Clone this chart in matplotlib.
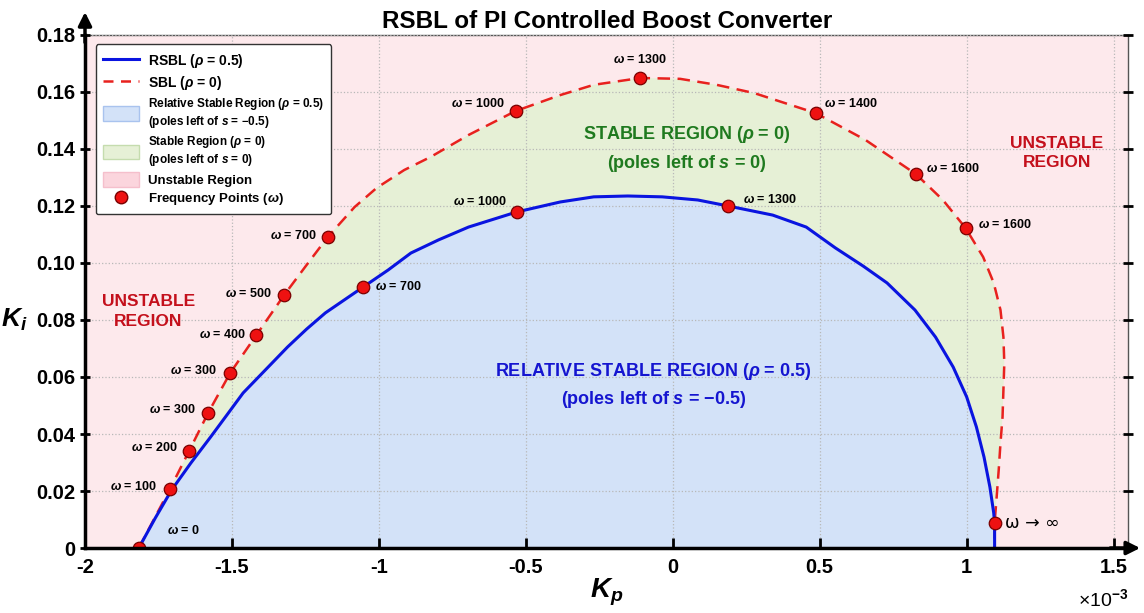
import matplotlib
matplotlib.use("Agg")
import matplotlib.pyplot as plt
from matplotlib.lines import Line2D
from matplotlib.patches import Patch

plt.rcParams["font.family"] = ["Liberation Sans", "DejaVu Sans"]
plt.rcParams["font.weight"] = "bold"
plt.rcParams["mathtext.fontset"] = "custom"
plt.rcParams["mathtext.it"] = "Liberation Sans:italic:bold"
plt.rcParams["mathtext.rm"] = "Liberation Sans:bold"
plt.rcParams["mathtext.bf"] = "Liberation Sans:bold"

# Kp values in units of 1e-3, Ki
rsbl_kp = [-1.817, -1.761, -1.705, -1.640, -1.573, -1.517, -1.462, -1.386, -1.311,
           -1.246, -1.182, -1.053, -0.969, -0.891, -0.797, -0.695, -0.531, -0.383,
           -0.269, -0.153, -0.036, 0.085, 0.188, 0.340, 0.454, 0.553, 0.648, 0.729,
           0.824, 0.894, 0.954, 1.000, 1.033, 1.059, 1.079, 1.092, 1.095, 1.095]
rsbl_ki = [0.0, 0.0105, 0.0204, 0.0298, 0.0389, 0.0467, 0.0544, 0.0625, 0.0705,
           0.0768, 0.0825, 0.0916, 0.0975, 0.1035, 0.1081, 0.1126, 0.1179, 0.1214,
           0.1232, 0.1235, 0.1232, 0.1221, 0.1200, 0.1168, 0.1126, 0.1053, 0.0989, 0.0930,
           0.0835, 0.0740, 0.0635, 0.0530, 0.0425, 0.0319, 0.0214, 0.0123, 0.0088, 0.0]

sbl_kp = [-1.817, -1.711, -1.646, -1.581, -1.506, -1.417, -1.322, -1.246, -1.174,
          -1.083, -1.008, -0.914, -0.824, -0.695, -0.535, -0.383, -0.269, -0.110,
          0.025, 0.149, 0.277, 0.486, 0.655, 0.827, 0.919, 0.996, 1.056, 1.092,
          1.115, 1.125, 1.128, 1.125, 1.122, 1.115, 1.109, 1.102, 1.095, 1.095]
sbl_ki = [0.0, 0.0207, 0.0340, 0.0474, 0.0614, 0.0747, 0.0888, 0.0993, 0.1091,
          0.1196, 0.1263, 0.1326, 0.1372, 0.1449, 0.1533, 0.1589, 0.1625, 0.1649,
          0.1646, 0.1625, 0.1596, 0.1526, 0.1432, 0.1312, 0.1221, 0.1123, 0.1021, 0.0930,
          0.0835, 0.0740, 0.0649, 0.0554, 0.0460, 0.0368, 0.0274, 0.0179, 0.0088, 0.0]

# frequency points on the SBL curve
sbl_pt_kp = [-1.817, -1.711, -1.646, -1.581, -1.506, -1.417, -1.322, -1.174, -0.535,
             -0.110, 0.486, 0.827, 0.996, 1.095]
sbl_pt_ki = [0.0, 0.0207, 0.034, 0.0474, 0.0614, 0.0747, 0.0888, 0.1091, 0.1533,
             0.1649, 0.1526, 0.1312, 0.1123, 0.0088]
sbl_pt_lbl = ["0", "100", "200", "300", "300", "400", "500", "700", "1000",
              "1300", "1400", "1600", "1600", "inf"]
# label offsets (pixels) and alignment
sbl_pt_off = [(28, 18), (-13, 3), (-11, 4), (-12, 3), (-13, 3), (-10, 1), (-12, 1),
              (-11, 2), (-11, 8), (0, 18), (8, 10), (10, 6), (12, 3), (10, 0)]
sbl_pt_ha = ["left", "right", "right", "right", "right", "right", "right", "right",
             "right", "center", "left", "left", "left", "left"]

rsbl_pt_kp = [-1.053, -0.531, 0.188]
rsbl_pt_ki = [0.0916, 0.1179, 0.120]
rsbl_pt_lbl = ["700", "1000", "1300"]
rsbl_pt_off = [(12, 0), (-10, 10), (15, 6)]
rsbl_pt_ha = ["left", "right", "left"]

c_pink = "#fde9ec"
c_green = "#e6f0d6"
c_blue = "#d3e2f8"

fig = plt.figure(figsize=(11.44, 6.13), dpi=100)
ax = fig.add_axes([0.0743, 0.106, 0.912, 0.837])
ax.set_facecolor(c_pink)

ax.fill(sbl_kp, sbl_ki, color=c_green, zorder=1, lw=0)
ax.fill(rsbl_kp, rsbl_ki, color=c_blue, zorder=1.1, lw=0)
ax.plot(sbl_kp, sbl_ki, "--", color="#e8211e", lw=1.8, dashes=(5, 3), zorder=3)
ax.plot(rsbl_kp, rsbl_ki, "-", color="#0a14e0", lw=2.2, zorder=3)

ax.plot(sbl_pt_kp, sbl_pt_ki, "o", ms=9, mfc="#ee1111", mec="#7a0000", mew=0.9, zorder=5)
ax.plot(rsbl_pt_kp, rsbl_pt_ki, "o", ms=9, mfc="#ee1111", mec="#7a0000", mew=0.9, zorder=5)

for x, y, lbl, off, ha in zip(sbl_pt_kp, sbl_pt_ki, sbl_pt_lbl, sbl_pt_off, sbl_pt_ha):
    if lbl == "inf":
        ax.annotate("\u03c9 \u2192 \u221e", (x, y), xytext=off, textcoords="offset pixels",
                    ha=ha, va="center", fontsize=12.5, fontweight="normal",
                    family="DejaVu Sans", zorder=6)
    else:
        ax.annotate("$\\omega$ = " + lbl, (x, y), xytext=off, textcoords="offset pixels",
                    ha=ha, va="center", fontsize=9, fontweight="bold", zorder=6)
for x, y, lbl, off, ha in zip(rsbl_pt_kp, rsbl_pt_ki, rsbl_pt_lbl, rsbl_pt_off, rsbl_pt_ha):
    ax.annotate("$\\omega$ = " + lbl, (x, y), xytext=off, textcoords="offset pixels",
                ha=ha, va="center", fontsize=9, fontweight="bold", zorder=6)

# region labels
ax.text(-1.784, 0.083, "UNSTABLE\nREGION", color="#c4101c", fontsize=12.5, ha="center",
        va="center", fontweight="bold", linespacing=1.4)
ax.text(1.306, 0.1386, "UNSTABLE\nREGION", color="#c4101c", fontsize=12.5, ha="center",
        va="center", fontweight="bold", linespacing=1.4)
ax.text(0.046, 0.140, "STABLE REGION ($\\rho$ = 0)\n(poles left of $s$ = 0)", color="#1f7a1f",
        fontsize=13, ha="center", va="center", fontweight="bold", linespacing=1.5)
ax.text(-0.065, 0.057, "RELATIVE STABLE REGION ($\\rho$ = 0.5)\n(poles left of $s$ = \u22120.5)",
        color="#1515d0", fontsize=13, ha="center", va="center", fontweight="bold",
        linespacing=1.5)

ax.set_xlim(-2, 1.55)
ax.set_ylim(0, 0.18)
ax.set_xticks([-2, -1.5, -1, -0.5, 0, 0.5, 1, 1.5])
ax.set_xticklabels(["-2", "-1.5", "-1", "-0.5", "0", "0.5", "1", "1.5"])
ax.set_yticks([0, 0.02, 0.04, 0.06, 0.08, 0.10, 0.12, 0.14, 0.16, 0.18])
ax.set_yticklabels(["0", "0.02", "0.04", "0.06", "0.08", "0.10", "0.12", "0.14", "0.16", "0.18"])
ax.tick_params(axis="both", labelsize=14.5, width=2, length=7)
ax.tick_params(axis="x", direction="in", pad=7)
ax.tick_params(axis="y", direction="inout", right=True)
ax.grid(True, linestyle=":", color="#b8b8b8", lw=0.9)
ax.set_axisbelow(False)

for s in ["top", "right"]:
    ax.spines[s].set_color("#555555")
    ax.spines[s].set_linewidth(1.0)
for s in ["left", "bottom"]:
    ax.spines[s].set_linewidth(2.5)
    ax.spines[s].set_zorder(7)

# axis arrows
ax.annotate("", xy=(0, 1.05), xytext=(0, 0.98), xycoords="axes fraction",
            arrowprops=dict(arrowstyle="-|>", lw=2.5, color="k", mutation_scale=20),
            annotation_clip=False)
ax.annotate("", xy=(1.014, 0), xytext=(0.98, 0), xycoords="axes fraction",
            arrowprops=dict(arrowstyle="-|>", lw=2.5, color="k", mutation_scale=20),
            annotation_clip=False)

ax.set_xlabel("$K_p$", fontsize=20, labelpad=0)
ax.set_ylabel("$K_i$", fontsize=19, rotation=0)
ax.yaxis.set_label_coords(-0.068, 0.42)
ax.text(1.0, -0.10, "\u00d710$^{-3}$", transform=ax.transAxes, fontsize=14,
        ha="right", va="center", fontweight="normal")
ax.set_title("RSBL of PI Controlled Boost Converter", fontsize=17.5, fontweight="bold", pad=5)

handles = [
    Line2D([], [], color="#0a14e0", lw=2.2),
    Line2D([], [], color="#e8211e", lw=1.8, ls="--", dashes=(4, 3)),
    Patch(facecolor=c_blue, edgecolor="#a9c3ee"),
    Patch(facecolor=c_green, edgecolor="#c5dcae"),
    Patch(facecolor="#fbd5dd", edgecolor="#f5bfcc"),
    Line2D([], [], ls="", marker="o", ms=9, mfc="#ee1111", mec="#7a0000"),
]
labels = [
    "RSBL ($\\rho$ = 0.5)",
    "SBL ($\\rho$ = 0)",
    "Relative Stable Region ($\\rho$ = 0.5)\n(poles left of $s$ = \u22120.5)",
    "Stable Region ($\\rho$ = 0)\n(poles left of $s$ = 0)",
    "Unstable Region",
    "Frequency Points ($\\omega$)",
]
leg = ax.legend(handles, labels, loc="upper left", bbox_to_anchor=(0.005, 0.993),
                fontsize=8.5, frameon=True, fancybox=True, framealpha=1,
                edgecolor="#333333", handlelength=3, handleheight=1.5,
                labelspacing=0.35, borderpad=0.6)
leg.get_frame().set_linewidth(1.0)
leg.set_zorder(10)
for t in leg.get_texts()[:2]:
    t.set_fontsize(10)
for t in leg.get_texts()[4:]:
    t.set_fontsize(9.5)

fig.savefig("out.png", dpi=100)
